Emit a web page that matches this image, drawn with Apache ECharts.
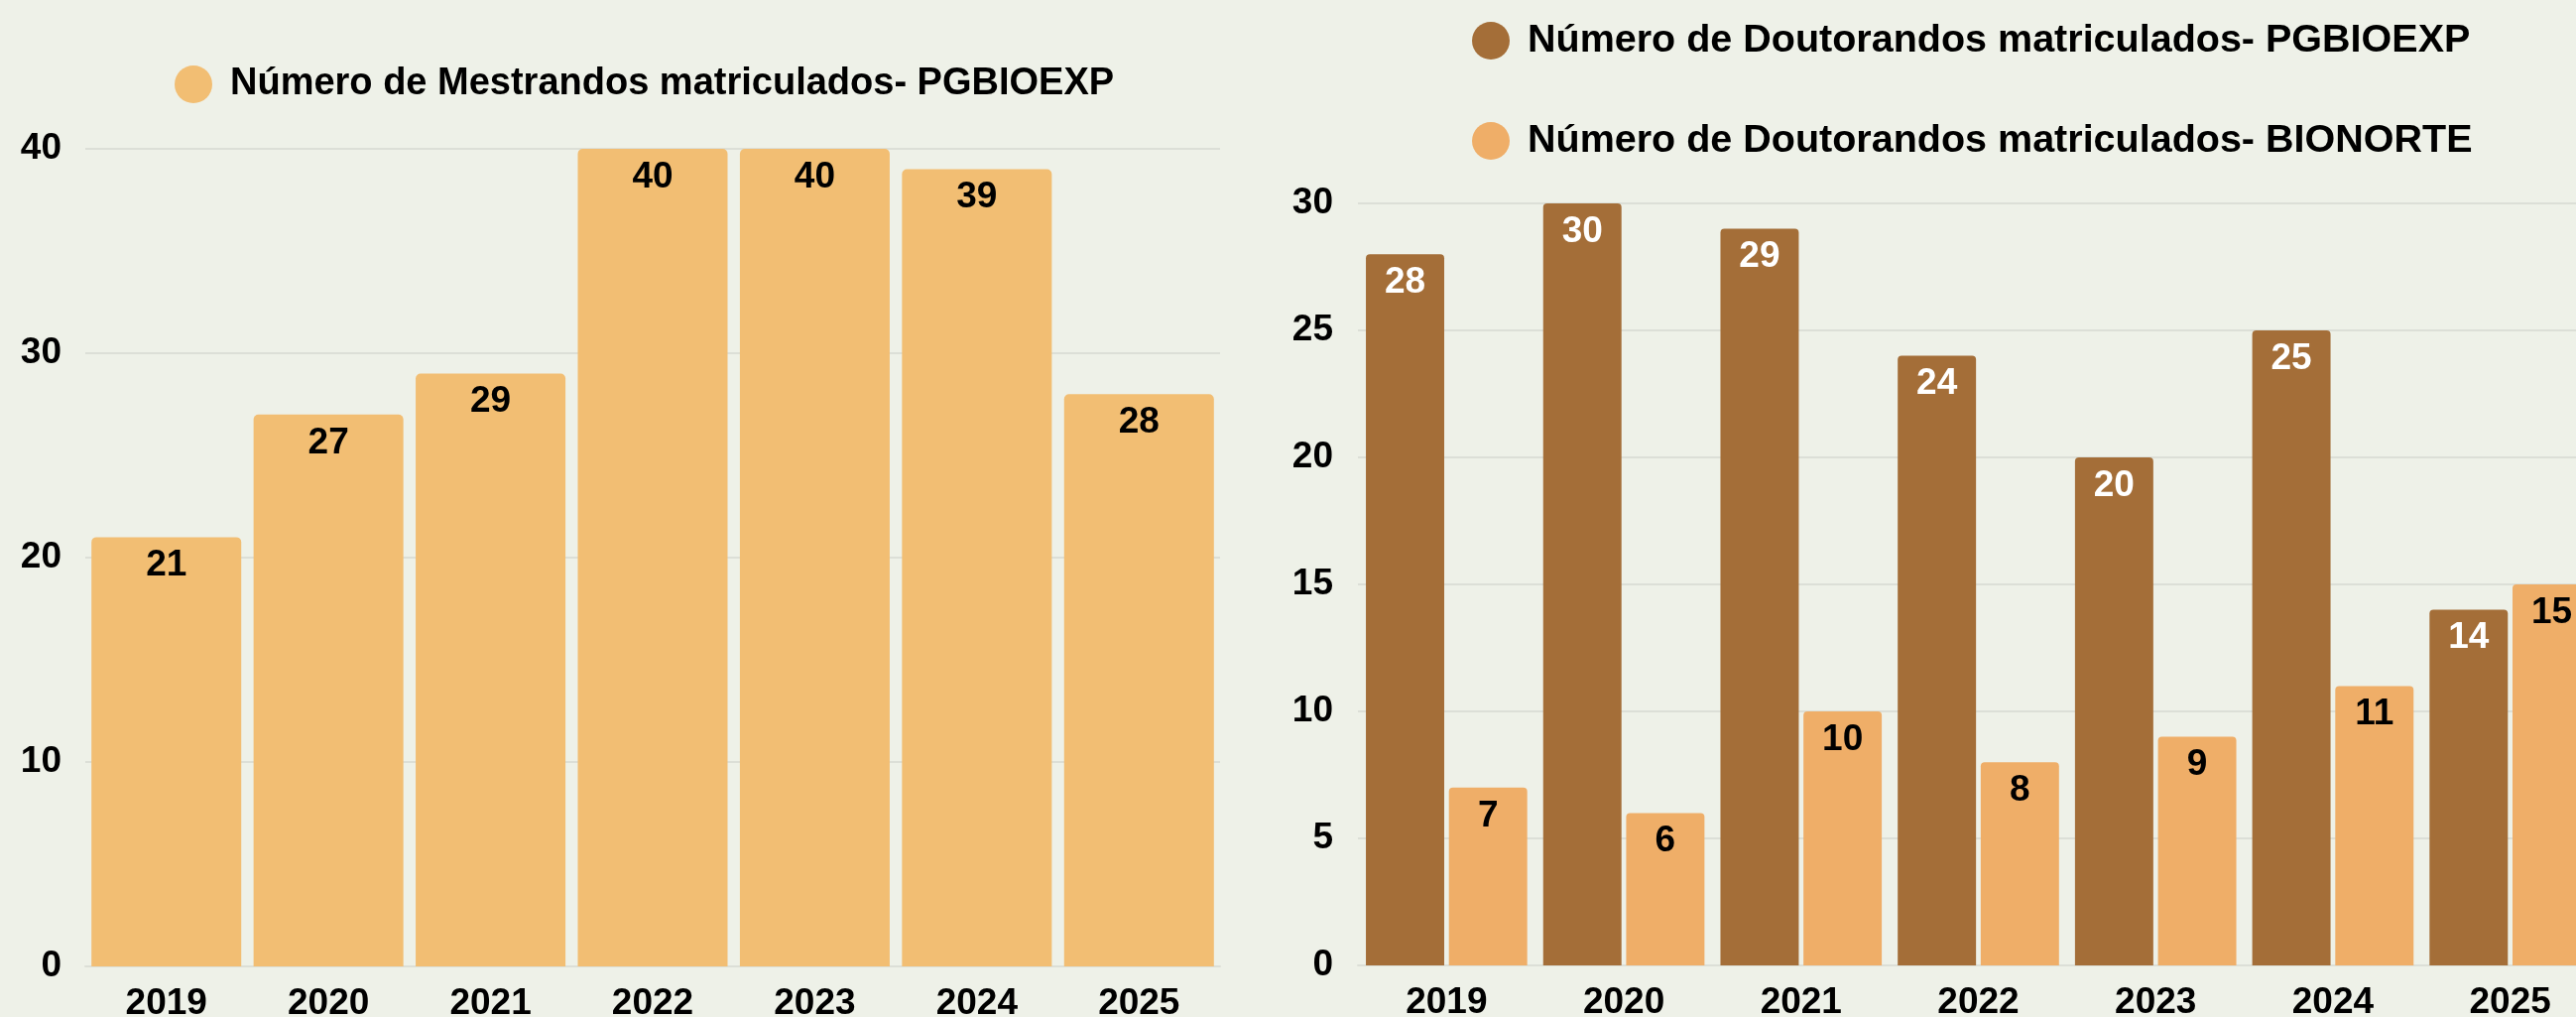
<!DOCTYPE html>
<html>
<head>
<meta charset="utf-8">
<script src="https://cdn.jsdelivr.net/npm/echarts@6/dist/echarts.min.js"></script>
<style>
  html, body { margin: 0; padding: 0; background: #eef1e8; }
  #chart { width: 2597px; height: 1025px; }
</style>
</head>
<body>
<div id="chart"></div>
<script>
// dados
var anos = ["2019", "2020", "2021", "2022", "2023", "2024", "2025"];
var mestrandosPGBIOEXP = [21, 27, 29, 40, 40, 39, 28];
var doutorandosPGBIOEXP = [28, 30, 29, 24, 20, 25, 14];
var doutorandosBIONORTE = [7, 6, 10, 8, 9, 11, 15];
var ticksMestrado = [0, 10, 20, 30, 40];
var ticksDoutorado = [0, 5, 10, 15, 20, 25, 30];

var fonte = "Liberation Sans, Arial, sans-serif";
var corGrade = "#dcdfd7";

function eixoX(gridIndex) {
  return {
    type: "category",
    gridIndex: gridIndex,
    data: anos,
    axisTick: { show: false },
    axisLine: { show: true, lineStyle: { color: corGrade, width: 2 } },
    axisLabel: { color: "#000", fontSize: 37, fontWeight: "bold", fontFamily: fonte, margin: 19 }
  };
}
function eixoY(gridIndex, ticks, margem) {
  return {
    type: "value",
    gridIndex: gridIndex,
    min: ticks[0],
    max: ticks[ticks.length - 1],
    interval: ticks[1] - ticks[0],
    axisLine: { show: false },
    axisTick: { show: false },
    splitLine: { show: true, lineStyle: { color: corGrade, width: 2 } },
    axisLabel: { color: "#000", fontSize: 37, fontWeight: "bold", fontFamily: fonte, margin: margem }
  };
}
function rotulo(cor) {
  return {
    show: true,
    position: "insideTop",
    distance: 10,
    color: cor,
    fontSize: 37,
    fontWeight: "bold",
    fontFamily: fonte
  };
}

var chart = echarts.init(document.getElementById("chart"));
chart.setOption({
  backgroundColor: "#eef1e8",
  animation: false,
  legend: [
    {
      left: 171,
      top: 61,
      icon: "circle",
      itemWidth: 38,
      itemHeight: 38,
      data: ["Número de Mestrandos matriculados- PGBIOEXP"],
      textStyle: { color: "#000", fontSize: 38, fontWeight: "bold", fontFamily: fonte, padding: [0, 0, 0, 13] }
    },
    {
      left: 1479,
      top: 16,
      orient: "vertical",
      icon: "circle",
      itemWidth: 38,
      itemHeight: 38,
      itemGap: 61,
      data: ["Número de Doutorandos matriculados- PGBIOEXP", "Número de Doutorandos matriculados- BIONORTE"],
      textStyle: { color: "#000", fontSize: 39.5, fontWeight: "bold", fontFamily: fonte, padding: [0, 0, 0, 13] }
    }
  ],
  grid: [
    { left: 86, top: 150, width: 1144, height: 824, outerBoundsMode: "none" },
    { left: 1369, top: 205, width: 1251, height: 768, outerBoundsMode: "none" }
  ],
  xAxis: [eixoX(0), eixoX(1)],
  yAxis: [eixoY(0, ticksMestrado, 24), eixoY(1, ticksDoutorado, 25)],
  series: [
    {
      name: "Número de Mestrandos matriculados- PGBIOEXP",
      type: "bar",
      xAxisIndex: 0,
      yAxisIndex: 0,
      barCategoryGap: "7.6%",
      itemStyle: { color: "#f2be73", borderRadius: [5, 5, 0, 0] },
      label: rotulo("#000"),
      data: mestrandosPGBIOEXP
    },
    {
      name: "Número de Doutorandos matriculados- PGBIOEXP",
      type: "bar",
      xAxisIndex: 1,
      yAxisIndex: 1,
      barCategoryGap: "9%",
      barGap: "6%",
      itemStyle: { color: "#a46e38", borderRadius: [4, 4, 0, 0] },
      label: rotulo("#fff"),
      data: doutorandosPGBIOEXP
    },
    {
      name: "Número de Doutorandos matriculados- BIONORTE",
      type: "bar",
      xAxisIndex: 1,
      yAxisIndex: 1,
      barCategoryGap: "9%",
      barGap: "6%",
      itemStyle: { color: "#efae68", borderRadius: [4, 4, 0, 0] },
      label: rotulo("#000"),
      data: doutorandosBIONORTE
    }
  ]
});
window.addEventListener("resize", function () {
  chart.resize();
});
</script>
</body>
</html>
